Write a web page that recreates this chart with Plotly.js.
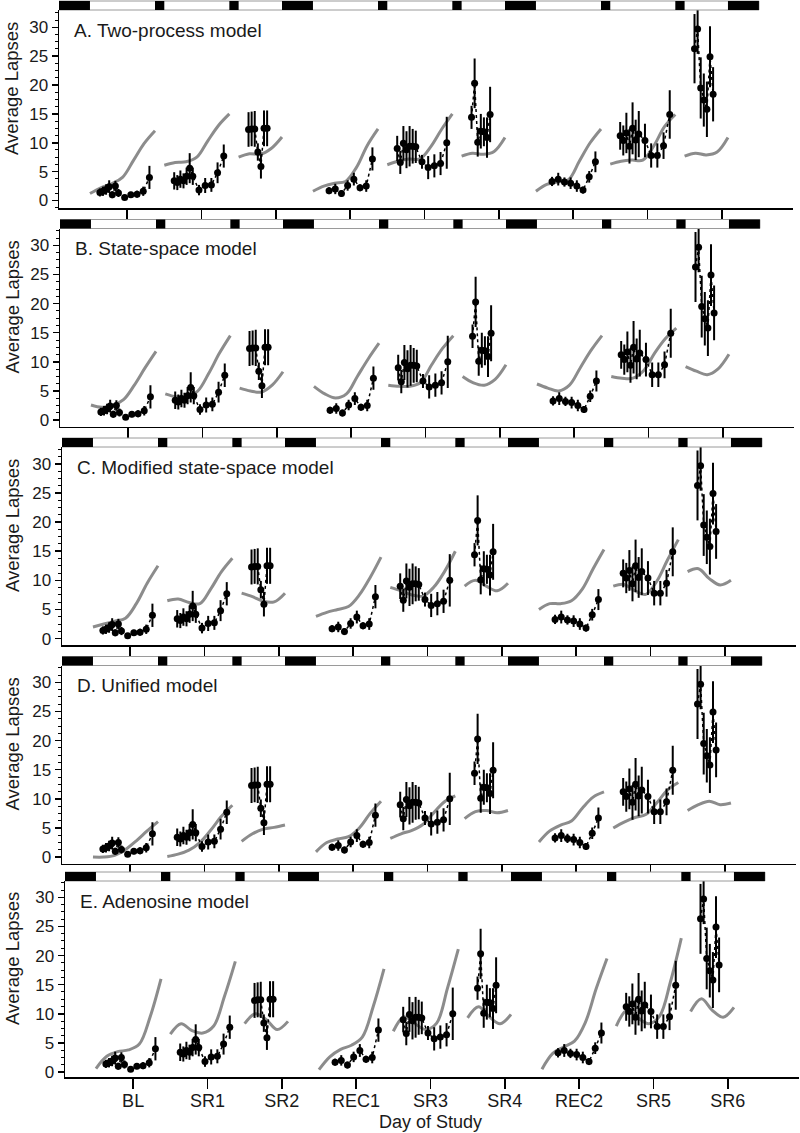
<!DOCTYPE html>
<html><head><meta charset="utf-8">
<script src="https://cdn.plot.ly/plotly-3.0.1.min.js"></script>
<style>html,body{margin:0;padding:0;background:#fff;} #chart{width:800px;height:1133px;}</style>
</head><body><div id="chart"></div>
<script>
// ---------- axis / schedule ----------
const dayLabels = ['BL','SR1','SR2','REC1','SR3','SR4','REC2','SR5','SR6'];
const tickHours = [22, 46, 70, 94, 118, 142, 166, 190, 214];
const sleepStart = [0, 31, 55, 72, 103, 127, 144, 175, 199, 216];
const sleepEnd   = [10, 34, 58, 82, 106, 130, 154, 178, 202, 226];
const barEndHour = 226;

// ---------- observed lapses (same in every panel) ----------
const obsHours = [
  [13.2,14.2,15.2,16.2,17.2,18.2,19.2,21.2,23.2,25.2,27.2,29.2],
  [37.2,38.2,39.2,40.2,41.2,42.2,43.2,45.2,47.2,49.2,51.2,53.2],
  [61.2,62.2,63.2,64.2,65.2,66.2,67.2],
  [87.2,89.2,91.2,93.2,95.2,97.2,99.2,101.2],
  [109.2,110.2,111.2,112.2,113.2,114.2,115.2,117.2,119.2,121.2,123.2,125.2],
  [133.2,134.2,135.2,136.2,137.2,138.2,139.2],
  [159.2,161.2,163.2,165.2,167.2,169.2,171.2,173.2],
  [181.2,182.2,183.2,184.2,185.2,186.2,187.2,189.2,191.2,193.2,195.2,197.2],
  [205.2,206.2,207.2,208.2,209.2,210.2,211.2]
];
const obsLapses = [
  [1.4,1.6,1.9,2.4,1.0,2.5,1.3,0.5,1.0,1.1,1.6,4.0],
  [3.4,3.1,3.7,3.4,4.2,5.6,4.2,1.8,2.6,2.7,4.8,7.7],
  [12.3,12.4,12.4,8.4,5.9,12.5,12.5],
  [1.7,2.0,1.2,2.6,3.7,2.2,2.5,7.2],
  [9.0,6.6,9.9,8.8,9.4,9.4,9.3,6.7,5.7,6.0,6.4,10.0],
  [14.4,20.3,10.1,12.0,11.9,10.9,14.9],
  [3.3,3.7,3.2,3.0,2.5,1.8,4.1,6.7],
  [11.2,10.4,11.7,9.4,12.5,10.5,11.5,10.4,7.8,7.8,9.5,14.9],
  [26.3,29.7,19.5,17.4,15.8,24.9,18.4]
];
const obsError = [
  [0.7,0.8,0.9,1.1,0.6,0.9,0.7,0.4,0.5,0.6,0.8,2.0],
  [1.5,1.3,1.5,1.3,1.5,2.6,1.5,0.9,1.3,1.2,1.8,2.0],
  [3.0,3.0,3.1,1.5,2.1,3.1,3.1],
  [0.6,0.9,0.6,0.9,1.1,0.6,1.0,2.0],
  [2.2,2.0,3.0,3.2,3.5,3.0,2.8,1.2,2.0,2.0,2.0,4.5],
  [2.0,4.3,2.5,3.0,2.5,3.5,4.8],
  [0.8,1.1,0.8,1.0,1.0,0.6,1.0,1.8],
  [2.4,2.6,3.5,3.0,4.5,3.5,4.0,2.9,2.1,2.1,2.3,4.2],
  [6.0,4.3,5.3,4.6,4.8,5.3,4.7]
];

// ---------- model predictions (per wake period) ----------
const curveHours = [
  [10,13.5,17,20.5,24,27.5,31],
  [34,37.5,41,44.5,48,51.5,55],
  [58,61.5,65,68.5,72],
  [82,85.5,89,92.5,96,99.5,103],
  [106,109.5,113,116.5,120,123.5,127],
  [130,133.5,137,140.5,144],
  [154,157.5,161,164.5,168,171.5,175],
  [178,181.5,185,188.5,192,195.5,199],
  [202,205.5,209,212.5,216]
];
const twoProcess = [
  [1.2,2.2,2.9,4.0,6.9,9.9,12.1],
  [6.1,6.6,6.7,7.5,10.3,13.0,15.0],
  [7.5,8.1,8.0,9.0,11.0],
  [1.6,2.5,3.0,3.3,5.7,9.5,12.4],
  [6.2,6.8,7.2,7.2,9.3,12.3,15.0],
  [7.7,8.2,8.0,8.5,10.9],
  [1.6,2.8,3.2,3.6,6.8,10.0,12.4],
  [6.3,6.8,7.0,7.0,9.4,12.8,14.9],
  [7.7,8.2,7.9,8.4,10.9]
];
const stateSpace = [
  [2.6,2.2,2.5,3.5,6.0,9.0,11.8],
  [4.5,4.0,4.0,5.0,8.0,11.5,14.5],
  [5.5,5.0,4.8,6.0,8.3],
  [5.8,4.5,3.8,4.5,7.5,10.5,13.2],
  [6.0,5.8,5.8,6.5,9.5,12.3,14.5],
  [7.5,6.4,6.0,7.0,9.5],
  [6.2,5.5,5.0,6.0,9.0,12.0,14.5],
  [7.5,7.2,7.2,8.5,11.5,14.0,15.8],
  [9.2,8.4,7.8,8.8,11.3]
];
const modifiedStateSpace = [
  [2.0,2.5,3.0,3.5,6.0,9.5,12.5],
  [6.5,6.8,6.2,6.0,8.5,11.5,13.8],
  [7.8,7.2,6.4,6.3,7.8],
  [3.8,4.5,5.0,5.5,7.5,10.5,14.0],
  [8.8,8.2,7.5,7.3,8.8,11.5,15.0],
  [9.0,10.0,9.0,8.2,9.5],
  [5.0,6.0,6.0,6.5,8.5,12.0,15.3],
  [9.0,9.3,8.2,7.6,9.8,13.5,17.0],
  [11.5,12.0,10.3,9.2,10.0]
];
const unified = [
  [0.0,0.0,0.3,1.3,2.8,4.5,6.1],
  [0.1,0.5,1.2,2.5,4.6,7.0,8.9],
  [2.7,4.0,4.8,5.1,5.5],
  [0.9,2.5,3.1,3.5,5.0,7.5,9.6],
  [3.2,4.0,4.6,5.6,7.6,9.5,10.5],
  [6.6,7.8,8.0,7.6,8.0],
  [2.6,4.5,5.5,6.2,8.4,10.3,11.2],
  [5.0,6.0,6.8,7.3,9.3,11.5,12.8],
  [8.0,9.0,9.6,9.0,9.3]
];
const adenosine = [
  [0.6,2.7,3.5,3.8,4.8,9.5,16.0],
  [6.5,8.3,7.1,6.7,7.9,13.0,19.0],
  [8.3,10.0,9.0,7.3,8.7],
  [0.4,2.6,3.9,4.6,6.0,11.2,17.7],
  [7.0,9.5,8.3,7.3,8.4,14.4,21.1],
  [9.3,11.2,9.5,8.3,9.9],
  [0.5,3.2,4.3,5.3,8.5,14.3,19.5],
  [7.9,10.6,9.3,8.3,9.6,15.5,23.0],
  [10.4,12.6,10.6,9.4,11.1]
];
const panelTitles = ['A. Two-process model','B. State-space model','C. Modified state-space model','D. Unified model','E. Adenosine model'];
const panelModels = [twoProcess, stateSpace, modifiedStateSpace, unified, adenosine];

// ---------- geometry ----------
const W = 800, H = 1133;
const panelLeftPx = [59, 60, 62, 62, 65];
const panelTopPx = [10, 228.5, 447, 665.5, 881];
const panelBottomPx = [208, 426.5, 645, 863.5, 1077];
const plotWidthPx = 734;
const xRange = [0, 237];
const yRanges = [[-1.3,33],[-1.1,32.9],[-1.1,32.9],[-1.1,32.9],[-0.85,32.8]];
const barPx = 9;

function joinSegments(arrs){
  const out = [];
  arrs.forEach((a,i)=>{ if(i>0) out.push(null); a.forEach(v=>out.push(v)); });
  return out;
}

const traces = [];
const layout = {
  width: W, height: H, margin:{l:0,r:0,t:0,b:0}, showlegend:false,
  paper_bgcolor:'white', plot_bgcolor:'white',
  font:{family:'Liberation Sans, Arial, sans-serif', color:'#1a1a1a', size:17},
  shapes:[], annotations:[]
};

for (let p = 0; p < 5; p++) {
  const sfx = p === 0 ? '' : String(p+1);
  const xa = 'x' + sfx, ya = 'y' + sfx;
  const left = panelLeftPx[p], top = panelTopPx[p], bottom = panelBottomPx[p];
  const plotH = bottom - top;
  layout['xaxis' + sfx] = {
    domain:[left/W, (left+plotWidthPx)/W], range:xRange, anchor:ya,
    showline:true, linecolor:'black', linewidth:1.5, mirror:false,
    ticks:'outside', ticklen:10, tickwidth:1.5, tickcolor:'black',
    tickmode:'array', tickvals:tickHours, ticktext:dayLabels,
    showticklabels: p === 4, tickfont:{size:18, color:'#1a1a1a'},
    ticklabelstandoff:-3,
    showgrid:false, zeroline:false
  };
  layout['yaxis' + sfx] = {
    domain:[1-bottom/H, 1-top/H], range:yRanges[p], anchor:xa,
    showline:true, linecolor:'black', linewidth:1.5,
    ticks:'outside', ticklen:6, tickwidth:1.5, tickcolor:'black',
    tick0:0, dtick:5, tickfont:{size:17, color:'#1a1a1a'},
    minor:{ticks:'outside', dtick:1.25, ticklen:3, tickwidth:1, tickcolor:'black', showgrid:false},
    showgrid:false, zeroline:false
  };
  // light/dark schedule bar
  layout.shapes.push({type:'rect', xref:xa, yref:ya+' domain', x0:0, x1:barEndHour,
    y0:1, y1:1+barPx/plotH, fillcolor:'white', line:{color:'#9a9a9a', width:1}, layer:'above'});
  for (let k = 0; k < sleepStart.length; k++) {
    layout.shapes.push({type:'rect', xref:xa, yref:ya+' domain', x0:sleepStart[k], x1:sleepEnd[k],
      y0:1, y1:1+barPx/plotH, fillcolor:'black', line:{width:0}, layer:'above'});
  }
  // model curve
  traces.push({
    type:'scatter', mode:'lines', xaxis:xa, yaxis:ya,
    x: joinSegments(curveHours), y: joinSegments(panelModels[p]),
    line:{color:'#8c8c8c', width:3, shape:'spline', smoothing:1},
    connectgaps:false, hoverinfo:'skip', cliponaxis:false
  });
  // observed data
  traces.push({
    type:'scatter', mode:'lines+markers', xaxis:xa, yaxis:ya,
    x: joinSegments(obsHours), y: joinSegments(obsLapses),
    line:{color:'black', width:1.5, dash:'dot'},
    marker:{color:'black', size:7, symbol:'circle'},
    error_y:{type:'data', array: joinSegments(obsError), visible:true, color:'black', thickness:2, width:0},
    connectgaps:false, cliponaxis:false
  });
  // panel title
  layout.annotations.push({text:panelTitles[p], xref:'paper', yref:'paper',
    x:(left+13)/W, y:1-(top+20)/H, xanchor:'left', yanchor:'middle', showarrow:false,
    font:{size:19, color:'#1a1a1a'}});
  // y title
  layout.annotations.push({text:'Average Lapses', xref:'paper', yref:'paper', textangle:-90,
    x:12/W, y:1-((top+bottom)/2-20)/H, xanchor:'center', yanchor:'middle', showarrow:false,
    font:{size:18.5, color:'#1a1a1a'}});
}
layout.annotations.push({text:'Day of Study', xref:'paper', yref:'paper',
  x:431/W, y:1-1122/H, xanchor:'center', yanchor:'middle', showarrow:false,
  font:{size:18, color:'#1a1a1a'}});

Plotly.newPlot('chart', traces, layout, {staticPlot:true});
</script>
</body></html>
